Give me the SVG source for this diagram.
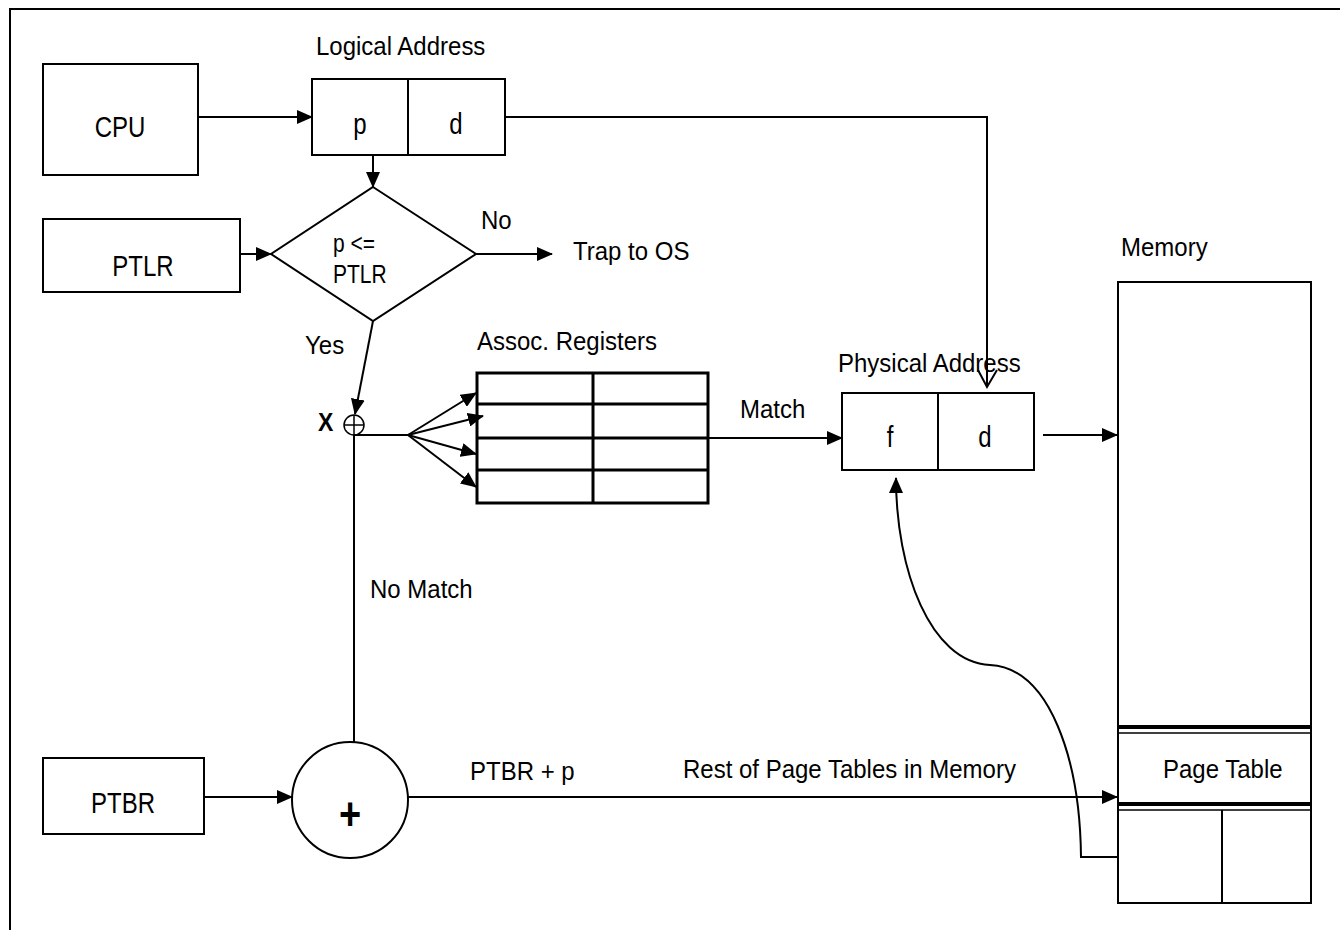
<svg xmlns="http://www.w3.org/2000/svg" width="1340" height="930" viewBox="0 0 1340 930">
<style>
text{font-family:"Liberation Sans",Arial,sans-serif;font-size:24px;fill:#000}
.c{text-anchor:middle}
.box{fill:#fff;stroke:#000;stroke-width:2}
.ln{fill:none;stroke:#000;stroke-width:2}
.tb{fill:none;stroke:#000;stroke-width:3}
</style>
<defs>
<marker id="ah" markerUnits="userSpaceOnUse" markerWidth="16" markerHeight="14" refX="15" refY="7" orient="auto">
<path d="M0,0 L16,7 L0,14 Z" fill="#000"/>
</marker>
</defs>
<rect width="1340" height="930" fill="#fff"/>
<path class="ln" d="M10,930 L10,9 L1340,9"/>

<g id="cpu"><rect class="box" x="43" y="64" width="155" height="111"/><text class="c" x="120" y="137" transform="matrix(1 0 0 1.25 0 -34.25)">CPU</text></g>
<g id="logical"><text x="316" y="55" transform="matrix(1 0 0 1.08 0 -4.4)">Logical Address</text><rect class="box" x="312" y="79" width="193" height="76"/><line class="ln" x1="408" y1="79" x2="408" y2="155"/><text class="c" x="360" y="134" transform="matrix(1 0 0 1.25 0 -33.5)">p</text><text class="c" x="456" y="134" transform="matrix(1 0 0 1.25 0 -33.5)">d</text></g>
<g id="ptlr"><rect class="box" x="43" y="219" width="197" height="73"/><text class="c" x="143" y="276" transform="matrix(1 0 0 1.25 0 -69)">PTLR</text></g>
<g id="check"><path class="box" d="M373,187 L476,254 L373,321 L271,254 Z"/><text x="333" y="252" style="font-size:21px" transform="matrix(1 0 0 1.22 0 -55.44)">p &lt;=</text><text x="333" y="283" style="font-size:21px" transform="matrix(1 0 0 1.22 0 -62.26)">PTLR</text></g>
<g id="trap"><text x="573" y="260" transform="matrix(1 0 0 1.08 0 -20.8)">Trap to OS</text></g>
<g id="xor"><circle class="ln" cx="354" cy="425" r="10" style="stroke-width:1.5"/><line x1="344" y1="425" x2="364" y2="425" stroke="#000" stroke-width="1.5"/><line x1="354" y1="415" x2="354" y2="435" stroke="#000" stroke-width="1.5"/><text x="318" y="431" style="font-weight:bold;font-size:23px" transform="matrix(1 0 0 1.15 0 -64.65)">X</text></g>
<g id="assoc"><text x="477" y="350" transform="matrix(1 0 0 1.08 0 -28)">Assoc. Registers</text>
<rect class="tb" x="477" y="373" width="231" height="130"/>
<path class="tb" d="M477,404 H708 M477,438 H708 M477,470 H708 M593,373 V503"/></g>
<g id="physical"><text x="838" y="372" transform="matrix(1 0 0 1.08 0 -29.76)">Physical Address</text><rect class="box" x="842" y="393" width="192" height="77"/><line class="ln" x1="938" y1="393" x2="938" y2="470"/><text class="c" x="890" y="447" transform="matrix(1 0 0 1.25 0 -111.75)">f</text><text class="c" x="985" y="447" transform="matrix(1 0 0 1.25 0 -111.75)">d</text></g>
<g id="memory"><text x="1121" y="256" transform="matrix(1 0 0 1.08 0 -20.48)">Memory</text><rect class="box" x="1118" y="282" width="193" height="621"/>
<line x1="1118" y1="727" x2="1311" y2="727" stroke="#000" stroke-width="4"/><line x1="1118" y1="733" x2="1311" y2="733" stroke="#000" stroke-width="1.5"/>
<line x1="1118" y1="804" x2="1311" y2="804" stroke="#000" stroke-width="4"/><line x1="1118" y1="810" x2="1311" y2="810" stroke="#000" stroke-width="1.5"/>
<line class="ln" x1="1222" y1="810" x2="1222" y2="903"/>
<text x="1163" y="778" transform="matrix(1 0 0 1.08 0 -62.24)">Page Table</text></g>
<g id="ptbr"><rect class="box" x="43" y="758" width="161" height="76"/><text class="c" x="123" y="813" transform="matrix(1 0 0 1.25 0 -203.25)">PTBR</text></g>
<g id="adder"><circle class="ln" cx="350" cy="800" r="58"/><text class="c" x="350" y="830" style="font-size:38px;font-weight:bold" transform="matrix(1 0 0 1.2 0 -166)">+</text></g>

<g id="connectors">
<line class="ln" x1="198" y1="117" x2="312" y2="117" marker-end="url(#ah)"/>
<line class="ln" x1="373" y1="155" x2="373" y2="187" marker-end="url(#ah)"/>
<polyline class="ln" points="505,117 987,117 987,387"/>
<polyline class="ln" points="978,370 987,387 997,370"/>
<line class="ln" x1="240" y1="254" x2="271" y2="254" marker-end="url(#ah)"/>
<line class="ln" x1="476" y1="254" x2="552" y2="254" marker-end="url(#ah)"/>
<line class="ln" x1="373" y1="321" x2="355" y2="414" marker-end="url(#ah)"/>
<polyline class="ln" points="354,435 408,435"/>
<line class="ln" x1="354" y1="435" x2="354" y2="742"/>
<line class="ln" x1="408" y1="435" x2="476" y2="393" marker-end="url(#ah)"/>
<line class="ln" x1="408" y1="435" x2="483" y2="416" marker-end="url(#ah)"/>
<line class="ln" x1="408" y1="435" x2="476" y2="454" marker-end="url(#ah)"/>
<line class="ln" x1="408" y1="435" x2="476" y2="487" marker-end="url(#ah)"/>
<line class="ln" x1="708" y1="438" x2="842" y2="438" marker-end="url(#ah)"/>
<line class="ln" x1="1043" y1="435" x2="1117" y2="435" marker-end="url(#ah)"/>
<line class="ln" x1="204" y1="797" x2="292" y2="797" marker-end="url(#ah)"/>
<line class="ln" x1="408" y1="797" x2="1117" y2="797" marker-end="url(#ah)"/>
<path class="ln" d="M1118,857 L1081,857 C1080,760 1050,668 990,665 C930,662 896,570 896,478" marker-end="url(#ah)"/>
<text x="481" y="229" transform="matrix(1 0 0 1.08 0 -18.32)">No</text>
<text x="305" y="354" transform="matrix(1 0 0 1.08 0 -28.32)">Yes</text>
<text x="740" y="418" transform="matrix(1 0 0 1.08 0 -33.44)">Match</text>
<text x="370" y="598" transform="matrix(1 0 0 1.08 0 -47.84)">No Match</text>
<text x="470" y="780" transform="matrix(1 0 0 1.08 0 -62.4)">PTBR + p</text>
<text x="683" y="778" transform="matrix(1 0 0 1.08 0 -62.24)">Rest of Page Tables in Memory</text>
</g>
</svg>
